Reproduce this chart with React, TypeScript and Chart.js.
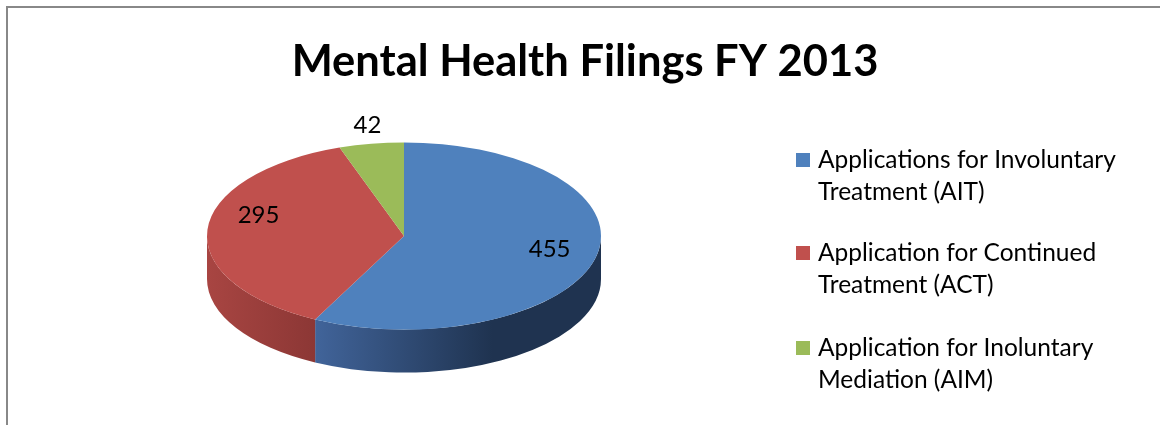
import React, { useEffect, useRef } from "react";
import { Chart, registerables } from "chart.js";

Chart.register(...registerables);

const TITLE = "Mental Health Filings FY 2013";
const categories = [
  ["Applications for Involuntary", "Treatment (AIT)"],
  ["Application for Continued", "Treatment (ACT)"],
  ["Application for Inoluntary", "Mediation (AIM)"],
];
const values = [455, 295, 42];
const topColors = ["#4f81bd", "#c0504d", "#9bbb59"];
const sideLight = ["#41649a", "#a84542", "#7f9a48"];
const sideDark = ["#1f3350", "#8c3735", "#5e7335"];

const FONT = "Lato, 'Open Sans', sans-serif";
const SQUASH = 0.475;
const DEPTH = 43;

const pie3d = {
  id: "pie3d",
  beforeDatasetsDraw(chart: any) {
    const ctx = chart.ctx;
    const meta = chart.getDatasetMeta(0);
    const arcs = meta.data;
    if (!arcs.length) return;
    const cx = arcs[0].x;
    const cy = arcs[0].y;
    const r = arcs[0].outerRadius;
    const ry = r * SQUASH;
    arcs.forEach((arc: any, i: number) => {
      const ranges = [
        [0, Math.PI],
        [2 * Math.PI, 3 * Math.PI],
      ];
      ranges.forEach(([lo, hi]) => {
        const a0 = Math.max(arc.startAngle, lo);
        const a1 = Math.min(arc.endAngle, hi);
        if (a1 <= a0) return;
        const xa = cx + r * Math.cos(a0);
        const xb = cx + r * Math.cos(a1);
        const left = Math.min(xa, xb);
        const right = Math.max(xa, xb);
        const g = ctx.createLinearGradient(left, 0, right, 0);
        g.addColorStop(0, sideLight[i]);
        g.addColorStop(i === 0 ? 0.62 : 1, sideDark[i]);
        g.addColorStop(1, sideDark[i]);
        ctx.save();
        ctx.beginPath();
        ctx.ellipse(cx, cy, r, ry, 0, a0, a1, false);
        ctx.lineTo(cx + r * Math.cos(a1), cy + DEPTH + ry * Math.sin(a1));
        ctx.ellipse(cx, cy + DEPTH, r, ry, 0, a1, a0, true);
        ctx.closePath();
        ctx.fillStyle = g;
        ctx.fill();
        ctx.restore();
      });
    });
    ctx.save();
    ctx.translate(cx, cy);
    ctx.scale(1, SQUASH);
    ctx.translate(-cx, -cy);
  },
  afterDatasetsDraw(chart: any) {
    const ctx = chart.ctx;
    ctx.restore();
    const meta = chart.getDatasetMeta(0);
    const arcs = meta.data;
    const fracs = [0.76, 0.74, 1.12];
    const dys = [-3, -16, -7];
    ctx.save();
    ctx.fillStyle = "#000";
    ctx.font = `24px ${FONT}`;
    ctx.textAlign = "center";
    ctx.textBaseline = "middle";
    arcs.forEach((arc: any, i: number) => {
      const mid = (arc.startAngle + arc.endAngle) / 2;
      const rr = arc.outerRadius * fracs[i];
      const x = arc.x + rr * Math.cos(mid);
      const y = arc.y + rr * SQUASH * Math.sin(mid) + dys[i];
      ctx.fillText(String(values[i]), x, y);
    });
    ctx.restore();
  },
  afterDraw(chart: any) {
    const ctx = chart.ctx;
    ctx.save();
    ctx.fillStyle = "#000";
    ctx.textBaseline = "middle";
    ctx.textAlign = "center";
    ctx.font = `bold 43.5px ${FONT}`;
    ctx.fillText(TITLE, 585, 62);
    ctx.textAlign = "left";
    ctx.font = `24.5px ${FONT}`;
    const itemY = [160, 253, 348];
    categories.forEach((lines, i) => {
      ctx.fillStyle = topColors[i];
      ctx.fillRect(796, itemY[i] - 7, 14, 14);
      ctx.fillStyle = "#000";
      lines.forEach((t, j) => ctx.fillText(t, 818, itemY[i] + j * 32));
    });
    ctx.restore();
  },
};

export default function App() {
  const ref = useRef<HTMLCanvasElement>(null);
  useEffect(() => {
    if (!ref.current) return;
    const chart = new Chart(ref.current, {
      type: "pie",
      data: {
        labels: categories.map((c) => c.join(" ")),
        datasets: [
          {
            data: values,
            backgroundColor: topColors,
            borderWidth: 0,
            clip: false as any,
          } as any,
        ],
      },
      options: {
        responsive: false,
        animation: false,
        radius: 197,
        layout: { padding: { left: 207, right: 559, top: 47, bottom: 0 } },
        plugins: {
          legend: { display: false },
          title: { display: false },
          tooltip: { enabled: false },
        },
      } as any,
      plugins: [pie3d],
    });
    return () => chart.destroy();
  }, []);
  return (
    <div style={{ position: "fixed", left: 0, top: 0, width: 1160, height: 425, background: "#fff" }}>
      <div
        style={{
          position: "absolute",
          left: 6,
          top: 6,
          width: 1160,
          height: 425,
          borderLeft: "2px solid #888",
          borderTop: "2px solid #888",
        }}
      />
      <canvas ref={ref} width={1160} height={425} style={{ position: "absolute", left: 0, top: 0 }} />
    </div>
  );
}
